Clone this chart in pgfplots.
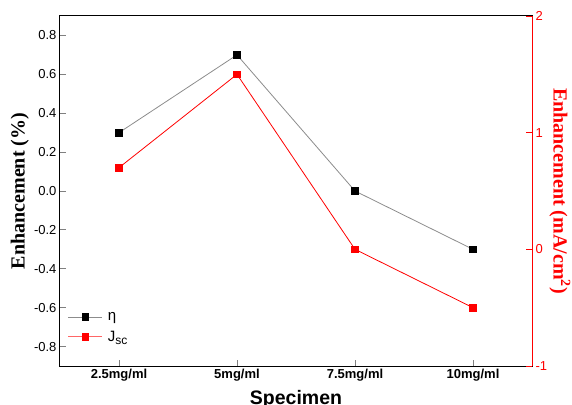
\documentclass[border=0pt]{standalone}
\usepackage{fontspec}
\setmainfont{Liberation Sans}
\newfontfamily\serifb{Liberation Serif}
\usepackage{pgfplots}
\pgfplotsset{compat=1.18}

\begin{document}
\begin{tikzpicture}
\pgfplotsset{
  every axis/.append style={
    scale only axis, width=472pt, height=350pt,
    at={(0,0)}, anchor=south west,
    xmin=-0.5, xmax=3.5,
    /pgf/number format/assume math mode=true,
    tick label style={font=\fontsize{13}{15}\selectfont},
    major tick length=6pt,
    tick align=inside,
    tick style={line width=0.8pt},
  }
}
% left axis: efficiency enhancement
\begin{axis}[
  ymin=-0.9, ymax=0.9,
  ytick={-0.8,-0.6,-0.4,-0.2,0,0.2,0.4,0.6,0.8},
  yticklabel style={/pgf/number format/.cd, fixed, fixed zerofill, precision=1},
  xtick={0,1,2,3},
  xticklabels={2.5mg/ml,5mg/ml,7.5mg/ml,10mg/ml},
  xticklabel style={font=\bfseries\fontsize{13}{15}\selectfont},
  xtick pos=bottom, ytick pos=left,
  axis line style={line width=1pt},
  xlabel={Specimen},
  xlabel style={font=\bfseries\fontsize{19.5}{22}\selectfont,
    at={(axis description cs:0.5,-0.1086)}, anchor=base},
  ylabel={Enhancement (\%)},
  ylabel style={font=\serifb\bfseries\fontsize{20}{24}\selectfont,
    at={(axis description cs:-0.085,0.5)}, anchor=center},
  legend style={draw=none, fill=none, font=\fontsize{15}{17}\selectfont,
    at={(axis description cs:0.01,0.055)}, anchor=south west,
    row sep=5pt},
  legend cell align=left,
  legend image code/.code={
    \draw[mark repeat=2,mark phase=2] plot coordinates {(0cm,0cm) (0.6cm,0cm) (1.2cm,0cm)};
  },
]
\addplot[black!45, line width=0.8pt, mark=square*, mark size=3.3pt,
  mark options={fill=black, draw=black}]
  coordinates {(0,0.3) (1,0.7) (2,0.0) (3,-0.3)};
\addlegendentry{\hspace{3pt}η}
\addlegendimage{red!60, line width=0.8pt, mark=square*, mark size=3.3pt,
  mark options={fill=red, draw=red}}
\addlegendentry{\hspace{3pt}J\raisebox{-0.4ex}{\fontsize{12}{14}\selectfont sc}}
\end{axis}
% right axis: current density enhancement
\begin{axis}[
  ymin=-1, ymax=2, ytick={-1,0,1,2},
  axis x line=none, axis y line*=right,
  y axis line style={-, red, line width=1pt},
  ytick style={red, line width=0.8pt},
  yticklabel style={red},
  ylabel={Enhancement (mA/cm\textsuperscript{2})},
  ylabel style={red, rotate=180, font=\serifb\bfseries\fontsize{20}{24}\selectfont,
    at={(axis description cs:1.059,0.5)}, anchor=center},
]
\addplot[red, line width=0.8pt, mark=square*, mark size=3.3pt,
  mark options={fill=red, draw=red}]
  coordinates {(0,0.7) (1,1.5) (2,0.0) (3,-0.5)};
\end{axis}
\pgfresetboundingbox
\path[use as bounding box] (-60pt,-38pt) rectangle (512pt,366pt);
\end{tikzpicture}
\end{document}
